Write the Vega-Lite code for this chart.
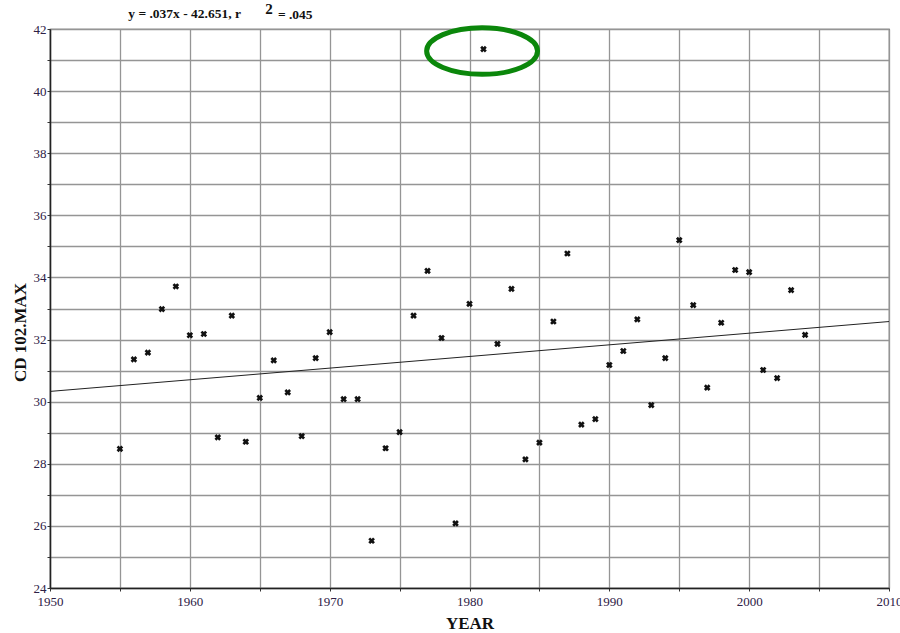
{
  "$schema": "https://vega.github.io/schema/vega-lite/v6.json",
  "width": 839,
  "height": 559,
  "autosize": {"type": "none"},
  "padding": {"left": 50, "top": 29, "right": 11, "bottom": 45},
  "background": "white",
  "config": {
    "view": {"stroke": "#555555", "strokeWidth": 1.2},
    "font": "Liberation Serif"
  },
  "datasets": {
    "pts": [
      {"YEAR": 1955, "MAX": 28.48}, {"YEAR": 1956, "MAX": 31.36}, {"YEAR": 1957, "MAX": 31.58},
      {"YEAR": 1958, "MAX": 32.98}, {"YEAR": 1959, "MAX": 33.71}, {"YEAR": 1960, "MAX": 32.14},
      {"YEAR": 1961, "MAX": 32.18}, {"YEAR": 1962, "MAX": 28.85}, {"YEAR": 1963, "MAX": 32.77},
      {"YEAR": 1964, "MAX": 28.71}, {"YEAR": 1965, "MAX": 30.12}, {"YEAR": 1966, "MAX": 31.33},
      {"YEAR": 1967, "MAX": 30.3}, {"YEAR": 1968, "MAX": 28.89}, {"YEAR": 1969, "MAX": 31.4},
      {"YEAR": 1970, "MAX": 32.24}, {"YEAR": 1971, "MAX": 30.08}, {"YEAR": 1972, "MAX": 30.08},
      {"YEAR": 1973, "MAX": 25.52}, {"YEAR": 1974, "MAX": 28.5}, {"YEAR": 1975, "MAX": 29.02},
      {"YEAR": 1976, "MAX": 32.77}, {"YEAR": 1977, "MAX": 34.21}, {"YEAR": 1978, "MAX": 32.05},
      {"YEAR": 1979, "MAX": 26.08}, {"YEAR": 1980, "MAX": 33.15}, {"YEAR": 1981, "MAX": 41.35},
      {"YEAR": 1982, "MAX": 31.86}, {"YEAR": 1983, "MAX": 33.63}, {"YEAR": 1984, "MAX": 28.14},
      {"YEAR": 1985, "MAX": 28.68}, {"YEAR": 1986, "MAX": 32.58}, {"YEAR": 1987, "MAX": 34.77},
      {"YEAR": 1988, "MAX": 29.26}, {"YEAR": 1989, "MAX": 29.44}, {"YEAR": 1990, "MAX": 31.18},
      {"YEAR": 1991, "MAX": 31.63}, {"YEAR": 1992, "MAX": 32.65}, {"YEAR": 1993, "MAX": 29.89},
      {"YEAR": 1994, "MAX": 31.4}, {"YEAR": 1995, "MAX": 35.2}, {"YEAR": 1996, "MAX": 33.11},
      {"YEAR": 1997, "MAX": 30.45}, {"YEAR": 1998, "MAX": 32.54}, {"YEAR": 1999, "MAX": 34.24},
      {"YEAR": 2000, "MAX": 34.17}, {"YEAR": 2001, "MAX": 31.02}, {"YEAR": 2002, "MAX": 30.76},
      {"YEAR": 2003, "MAX": 33.59}, {"YEAR": 2004, "MAX": 32.15}
    ],
    "fit": [
      {"YEAR": 1950, "MAX": 30.33},
      {"YEAR": 2010, "MAX": 32.58}
    ],
    "ring": [
      {"YEAR": 1980.9, "MAX": 41.29}
    ],
    "eqa": [{"YEAR": 1955.6, "MAX": 42.49, "txt": "y = .037x - 42.651, r"}],
    "eqb": [{"YEAR": 1965.4, "MAX": 42.64, "txt": "2"}],
    "eqc": [{"YEAR": 1966.3, "MAX": 42.46, "txt": "= .045"}]
  },
  "encoding": {
    "x": {
      "field": "YEAR", "type": "quantitative",
      "scale": {"domain": [1950, 2010], "nice": false, "zero": false},
      "axis": {
        "title": "YEAR",
        "titleFont": "Liberation Serif", "titleFontSize": 17, "titleFontWeight": "bold",
        "titleColor": "#111111", "titlePadding": 7,
        "values": [1950, 1955, 1960, 1965, 1970, 1975, 1980, 1985, 1990, 1995, 2000, 2005, 2010],
        "labelExpr": "datum.value % 10 == 0 ? datum.label : ''",
        "format": "d",
        "labelFont": "Liberation Serif", "labelFontSize": 13, "labelColor": "#2d2045",
        "labelPadding": 4, "labelFlush": false,
        "domainColor": "#222222", "domainWidth": 1.5,
        "tickColor": "#333333", "tickSize": 3,
        "gridColor": "#959595", "gridWidth": 1.3
      }
    },
    "y": {
      "field": "MAX", "type": "quantitative",
      "scale": {"domain": [24, 42], "nice": false, "zero": false},
      "axis": {
        "title": "CD 102.MAX",
        "titleFont": "Liberation Serif", "titleFontSize": 17, "titleFontWeight": "bold",
        "titleColor": "#111111", "titlePadding": 4, "titleY": 303,
        "values": [24, 25, 26, 27, 28, 29, 30, 31, 32, 33, 34, 35, 36, 37, 38, 39, 40, 41, 42],
        "labelExpr": "datum.value % 2 == 0 ? datum.label : ''",
        "labelFont": "Liberation Serif", "labelFontSize": 13, "labelColor": "#2d2045",
        "labelPadding": 1,
        "domainColor": "#222222", "domainWidth": 1.5,
        "tickColor": "#333333", "tickSize": 3,
        "gridColor": "#959595", "gridWidth": 1.3
      }
    }
  },
  "layer": [
    {
      "data": {"name": "fit"},
      "mark": {"type": "line", "color": "#222222", "strokeWidth": 1}
    },
    {
      "data": {"name": "pts"},
      "mark": {"type": "point", "shape": "cross", "angle": 45, "filled": true, "color": "#111111", "size": 45, "opacity": 1}
    },
    {
      "data": {"name": "ring"},
      "mark": {
        "type": "point",
        "shape": "M -1 0 A 1 0.42 0 1 0 1 0 A 1 0.42 0 1 0 -1 0 Z",
        "filled": false, "stroke": "#0b870b", "strokeWidth": 5, "size": 12300, "opacity": 1
      }
    },
    {
      "data": {"name": "eqa"},
      "mark": {"type": "text", "font": "Liberation Serif", "fontWeight": "bold", "fontSize": 13.5, "align": "left", "baseline": "middle", "clip": false, "color": "#111111"},
      "encoding": {"text": {"field": "txt"}}
    },
    {
      "data": {"name": "eqb"},
      "mark": {"type": "text", "font": "Liberation Serif", "fontWeight": "bold", "fontSize": 15, "align": "left", "baseline": "middle", "clip": false, "color": "#111111"},
      "encoding": {"text": {"field": "txt"}}
    },
    {
      "data": {"name": "eqc"},
      "mark": {"type": "text", "font": "Liberation Serif", "fontWeight": "bold", "fontSize": 13.5, "align": "left", "baseline": "middle", "clip": false, "color": "#111111"},
      "encoding": {"text": {"field": "txt"}}
    }
  ]
}
